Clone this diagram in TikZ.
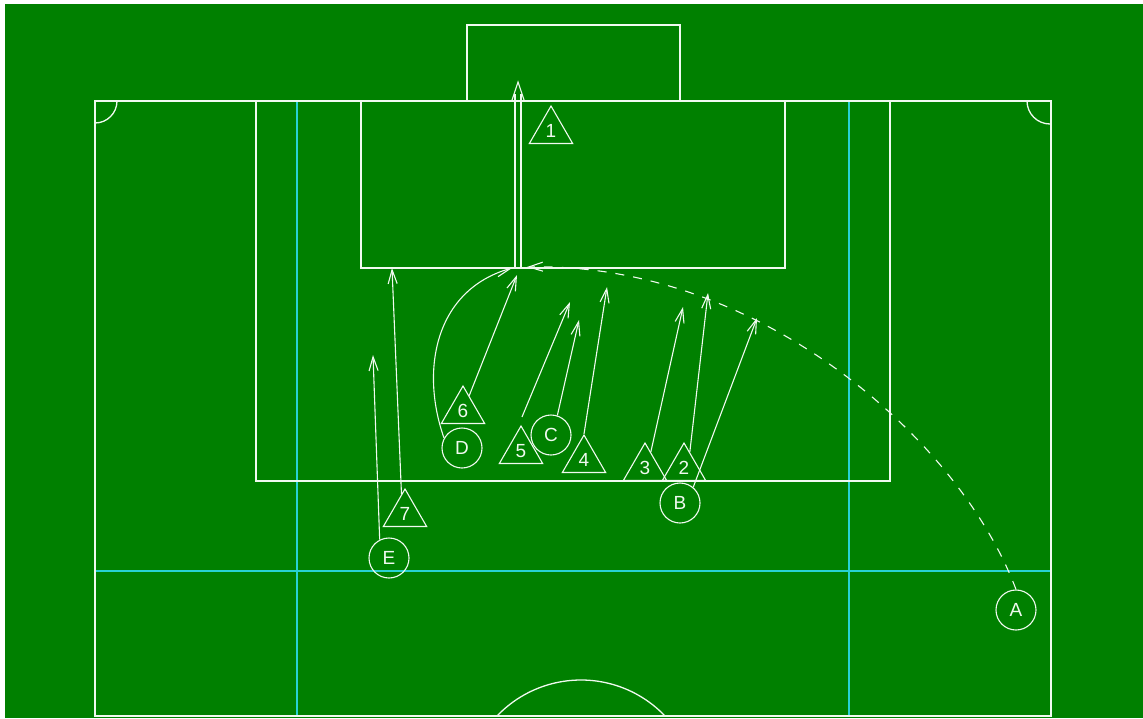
\documentclass[tikz,border=0pt]{standalone}
\usepackage{fontspec}
\setmainfont{Liberation Sans}
\usetikzlibrary{shapes.geometric,arrows.meta,calc}
\definecolor{pitch}{RGB}{0,128,0}
\definecolor{lin}{RGB}{240,250,240}
\definecolor{cyanline}{RGB}{40,210,210}
\begin{document}
\begin{tikzpicture}[x=1pt,y=-1pt,
  fieldline/.style={draw=lin, line width=1.3pt},
  guide/.style={draw=cyanline, line width=1.3pt},
  lbl/.style={text=lin, font=\fontsize{19}{19}\selectfont},
  tri/.style={lbl, regular polygon, regular polygon sides=3, draw=lin, line width=1.1pt, minimum size=50pt, inner sep=0pt},
  plr/.style={lbl, circle, draw=lin, line width=1.1pt, minimum size=40pt, inner sep=0pt},
  arr/.style={draw=lin, line width=1.1pt, -{Straight Barb[length=14pt,width=9pt]}},
  pass/.style={arr, dash pattern=on 9pt off 9pt}
]
\useasboundingbox (0,0) rectangle (1143,718);
\fill[white] (0,0) rectangle (1143,718);
\fill[pitch] (5,4) rectangle (1143,718);

% guide lines
\draw[guide] (297,101) -- (297,716);
\draw[guide] (849,101) -- (849,716);
\draw[guide] (95,571) -- (1051,571);

% field
\draw[fieldline] (95,101) rectangle (1051,716);
\draw[fieldline] (467,101) -- (467,25) -- (680,25) -- (680,101);
\draw[fieldline] (256,101) rectangle (890,481);
\draw[fieldline] (361,101) rectangle (785,268);
\draw[fieldline] (117,101) arc[start angle=0, end angle=90, radius=22];
\draw[fieldline] (1027,101) arc[start angle=180, end angle=90, radius=23];
\draw[fieldline] (497,716) arc[start angle=-136.4, end angle=-43.6, radius=116];

% players
\node[tri] (t1) at (551,131) {1};
\node[tri] (t6) at (463,411) {6};
\node[tri] (t5) at (521,451) {5};
\node[tri] (t4) at (584,460) {4};
\node[tri] (t3) at (645,468) {3};
\node[tri] (t2) at (684,468) {2};
\node[tri] (t7) at (405,514) {7};
\node[plr] (cA) at (1016,610) {A};
\node[plr] (cB) at (680,503) {B};
\node[plr] (cC) at (551,435) {C};
\node[plr] (cD) at (462,448) {D};
\node[plr] (cE) at (389,558) {E};

% target points
\coordinate (ball) at (518,268);
\coordinate (ballR) at (527,267);
\coordinate (ballL) at (512,268);
\coordinate (goalpt) at (518,82);
\coordinate (e6) at (517,275);
\coordinate (e5) at (570,302);
\coordinate (eC) at (579,320);
\coordinate (e4) at (607,287);
\coordinate (e3) at (683,307);
\coordinate (e2) at (708,293);
\coordinate (eB) at (757,318);
\coordinate (eE) at (373,355);
\coordinate (e7) at (392,268);

% runs
\draw[arr] (cE.117) -- (eE);
\draw[arr] (t7.100) -- (e7);
\draw[arr] (t6.68) -- (e6);
\draw[arr] ($(t5.north)+(1,-8)$) -- (e5);
\draw[arr] (cC.72) -- (eC);
\draw[arr] (t4.north) -- (e4);
\draw[arr] (t3.70) -- (e3);
\draw[arr] (t2.70) -- (e2);
\draw[arr] (cB.50) -- (eB);
\draw[arr] (cD.151) .. controls (420,370) and (435,290) .. (ballL);

% cross
\draw[pass] (cA.north) .. controls (960,440) and (760,262) .. (ballR);

% shot
\draw[fieldline, line width=1.1pt] ([xshift=-3pt]ball) -- ([xshift=-3pt]goalpt |- 0,94);
\draw[fieldline, line width=1.1pt] ([xshift=3pt]ball) -- ([xshift=3pt]goalpt |- 0,94);
\draw[fieldline, line width=1.1pt] ($(goalpt)+(-6,18)$) -- (goalpt) -- ($(goalpt)+(6,18)$);
\end{tikzpicture}
\end{document}
